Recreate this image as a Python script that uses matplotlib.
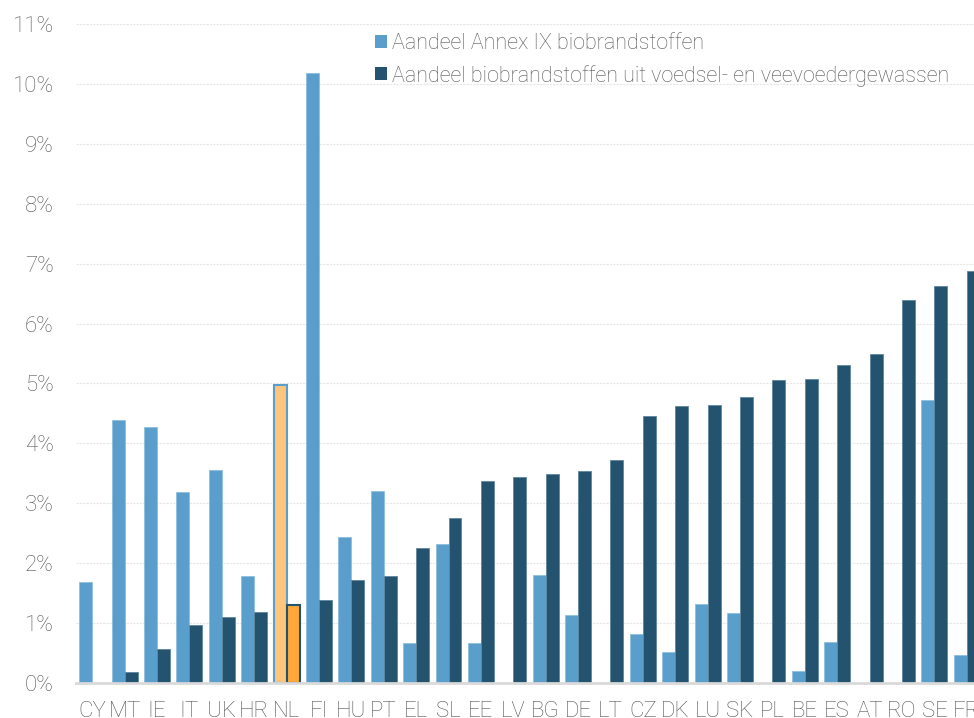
import matplotlib
matplotlib.use("Agg")
import matplotlib.pyplot as plt
import numpy as np
from matplotlib.patches import Patch
from matplotlib.ticker import FuncFormatter, MultipleLocator

plt.rcParams['font.family'] = ['Roboto', 'DejaVu Sans']

countries = ["CY", "MT", "IE", "IT", "UK", "HR", "NL", "FI", "HU", "PT", "EL", "SL", "EE", "LV",
             "BG", "DE", "LT", "CZ", "DK", "LU", "SK", "PL", "BE", "ES", "AT", "RO", "SE", "FR"]
annex_ix = [1.69, 4.39, 4.28, 3.18, 3.56, 1.79, 4.97, 10.19, 2.44, 3.21, 0.67, 2.32, 0.67, 0.0,
            1.81, 1.14, 0.0, 0.82, 0.51, 1.32, 1.17, 0.0, 0.20, 0.68, 0.0, 0.0, 4.73, 0.46]
food_feed = [0.0, 0.18, 0.56, 0.96, 1.10, 1.18, 1.30, 1.39, 1.72, 1.79, 2.25, 2.75, 3.37, 3.44,
             3.49, 3.54, 3.72, 4.45, 4.62, 4.64, 4.77, 5.05, 5.08, 5.30, 5.50, 6.39, 6.62, 6.88]
labels = ["Aandeel Annex IX biobrandstoffen",
          "Aandeel biobrandstoffen uit voedsel- en veevoedergewassen"]
highlight = "NL"

c_light = "#5A9ECB"
c_dark = "#23536F"
c_hl_light = "#FFC57D"
c_hl_dark = "#FFA83A"
text_c = "#555555"

fig = plt.figure(figsize=(9.74, 7.18), dpi=100)
ax = fig.add_axes([76/974, (718-683)/718, 1 - 76/974, (683-24)/718])

x = np.arange(len(countries))
w = 0.4
a = np.array(annex_ix) / 100
f = np.array(food_feed) / 100
cols_l = [c_hl_light if c == highlight else c_light for c in countries]
cols_d = [c_hl_dark if c == highlight else c_dark for c in countries]
edg_l = [c_light if c == highlight else "#8DBEDD" for c in countries]
edg_d = [c_dark if c == highlight else "#5F86A0" for c in countries]
lw_l = [1.5 if c == highlight else 0.6 for c in countries]
ax.bar(x - w/2, a, width=w, color=cols_l, edgecolor=edg_l, linewidth=lw_l, zorder=3)
ax.bar(x + w/2, f, width=w, color=cols_d, edgecolor=edg_d, linewidth=lw_l, zorder=3)

ax.set_xlim(-0.5, (974 - 92) / 32.4)
ax.set_ylim(0, 0.11)
ax.yaxis.set_major_locator(MultipleLocator(0.01))
ax.yaxis.set_major_formatter(FuncFormatter(lambda v, p: f"{round(v*100)}%"))
ax.set_xticks(x)
ax.set_xticklabels(countries)
ax.tick_params(axis='both', length=0, labelsize=16, labelcolor=text_c)
ax.tick_params(axis='x', pad=13)
ax.tick_params(axis='y', pad=16)
for lbl in ax.get_xticklabels() + ax.get_yticklabels():
    lbl.set_fontweight('light')

for s in ['top', 'right', 'left']:
    ax.spines[s].set_visible(False)
ax.spines['bottom'].set_color('#D9D9D9')
ax.spines['bottom'].set_linewidth(2)
ax.spines['bottom'].set_zorder(4)
ax.grid(axis='y', color='#E6E6E6', linewidth=0.8, linestyle=(0, (2, 1)), zorder=0)
ax.set_axisbelow(True)

handles = [Patch(facecolor=c_light, edgecolor='none'), Patch(facecolor=c_dark, edgecolor='none')]
leg = fig.legend(handles, labels, loc='upper left', bbox_to_anchor=(375/974, 1 - 33/718),
                 frameon=False, fontsize=15.5, handlelength=0.55, handleheight=0.55,
                 handletextpad=0.25, labelspacing=0.5, borderaxespad=0, borderpad=0)
for t in leg.get_texts():
    t.set_color(text_c)
    t.set_fontweight('light')

fig.savefig("out.png", dpi=100)
